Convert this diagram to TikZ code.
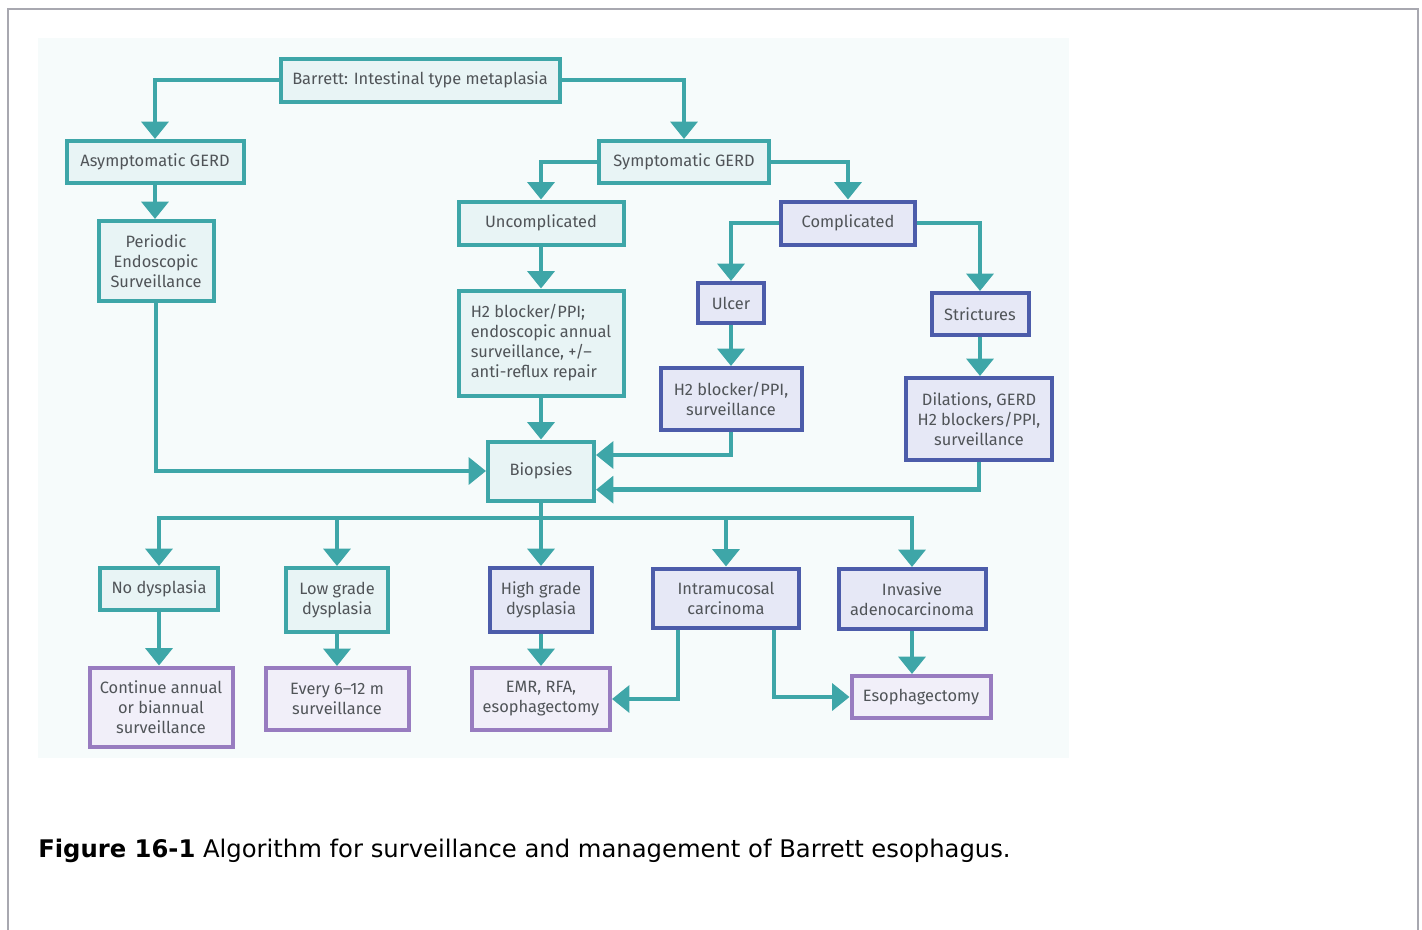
\documentclass[tikz,border=0pt]{standalone}
\usepackage{fontspec}
\setmainfont{Fira Sans}
\newfontfamily\capfont{DejaVu Sans}
\usetikzlibrary{arrows.meta}
\definecolor{tealline}{RGB}{62,166,168}
\definecolor{tealfill}{RGB}{232,244,245}
\definecolor{blueline}{RGB}{76,92,170}
\definecolor{bluefill}{RGB}{230,232,246}
\definecolor{purpline}{RGB}{152,124,192}
\definecolor{purpfill}{RGB}{241,239,249}
\definecolor{panel}{RGB}{246,251,251}
\definecolor{boxtext}{RGB}{80,84,88}
\definecolor{frame}{RGB}{168,168,176}
\begin{document}
\begin{tikzpicture}[x=0.75pt,y=-0.75pt,
  sz/.style 2 args={minimum width=#1*0.75pt,minimum height=#2*0.75pt},
  basebox/.style={draw,line width=3pt,inner sep=2pt,align=center,text=boxtext,
    font=\fontsize{12.3}{15}\selectfont},
  tealbox/.style={basebox,draw=tealline,fill=tealfill},
  bluebox/.style={basebox,draw=blueline,fill=bluefill},
  purpbox/.style={basebox,draw=purpline,fill=purpfill},
  arr/.style={draw=tealline,line width=3.4pt,
    -{Triangle[width=20pt,length=13pt]}},
  link/.style={draw=tealline,line width=3.4pt}]
\useasboundingbox (0,0) rectangle (1422,929);
% page frame and figure panel
\draw[frame,line width=1.5pt] (8,935) -- (8,9) -- (1418,9) -- (1418,935);
\fill[panel] (38,38) rectangle (1069,758);

% boxes
\node[tealbox,sz={279}{43}] (bar) at (420,80) {Barrett: Intestinal type metaplasia};
\node[tealbox,sz={177}{42}] (asym) at (155,162) {Asymptomatic GERD};
\node[tealbox,sz={170}{42}] (sym) at (684,162) {Symptomatic GERD};
\node[tealbox,sz={115}{80}] (per) at (156,261) {Periodic\\Endoscopic\\Surveillance};
\node[tealbox,sz={165}{43}] (unc) at (541,223) {Uncomplicated};
\node[bluebox,sz={134}{43}] (comp) at (848,223) {Complicated};
\node[bluebox,sz={66}{40}] (ulc) at (731,303) {Ulcer};
\node[bluebox,sz={97}{42}] (str) at (980,314) {Strictures};
\node[tealbox,sz={165}{105},align=left] (h2a) at (541,343)
  {H2 blocker/PPI;\\endoscopic annual\\surveillance, +/--\\anti-reflux repair};
\node[bluebox,sz={141}{62}] (h2s) at (731,399) {H2 blocker/PPI,\\surveillance};
\node[bluebox,sz={146}{82}] (dil) at (979,419) {Dilations, GERD\\H2 blockers/PPI,\\surveillance};
\node[tealbox,sz={106}{59}] (bio) at (541,471) {Biopsies};
\node[tealbox,sz={118}{42}] (nod) at (159,589) {No dysplasia};
\node[tealbox,sz={102}{64}] (low) at (337,600) {Low grade\\dysplasia};
\node[bluebox,sz={102}{64}] (high) at (541,600) {High grade\\dysplasia};
\node[bluebox,sz={146}{59}] (imc) at (726,598) {Intramucosal\\carcinoma};
\node[bluebox,sz={147}{60}] (inv) at (912,599) {Invasive\\adenocarcinoma};
\node[purpbox,sz={143}{79}] (cont) at (161,707) {Continue annual\\or biannual\\surveillance};
\node[purpbox,sz={143}{62}] (every) at (337,699) {Every 6--12 m\\surveillance};
\node[purpbox,sz={138}{62}] (emr) at (541,699) {EMR, RFA,\\esophagectomy};
\node[purpbox,sz={139}{42}] (eso) at (921,697) {Esophagectomy};

% connectors, top half
\draw[arr] (bar.west) -| (asym.north);
\draw[arr] (bar.east) -| (sym.north);
\draw[arr] (asym.south) -- (asym.south |- per.north);
\draw[arr] (sym.west) -| (unc.north);
\draw[arr] (sym.east) -| (comp.north);
\draw[arr] (comp.west) -| (ulc.north);
\draw[arr] (comp.east) -| (str.north);
\draw[arr] (unc.south) -- (h2a.north);
\draw[arr] (h2a.south) -- (bio.north);
\draw[arr] (ulc.south) -- (h2s.north);
\draw[arr] (str.south) -- (str.south |- dil.north);
\draw[arr] (per.south) |- (bio.west);
\draw[arr] (h2s.south) |- ([yshift=12pt]bio.east);
\draw[arr] (dil.south) |- ([yshift=-14pt]bio.east);

% biopsy results
\coordinate (bus) at (541,518);
\draw[link] (bio.south) -- (bus);
\draw[arr] (bus) -| (nod.north);
\draw[arr] (bus) -| (low.north);
\draw[arr] (bus) -- (high.north);
\draw[arr] (bus) -| (imc.north);
\draw[arr] (bus) -| (inv.north);

% management
\draw[arr] (nod.south) -- (nod.south |- cont.north);
\draw[arr] (low.south) -- (every.north);
\draw[arr] (high.south) -- (emr.north);
\draw[arr] ([xshift=-36pt]imc.south) |- (emr.east);
\draw[arr] ([xshift=36pt]imc.south) |- (eso.west);
\draw[arr] (inv.south) -- (inv.south |- eso.north);

% caption
\node[anchor=base west,inner sep=0pt,font=\capfont\fontsize{18.2}{21}\selectfont] (cap) at (38,857)
  {\textbf{Figure 16-1} Algorithm for surveillance and management of Barrett esophagus.};
\end{tikzpicture}
\end{document}
